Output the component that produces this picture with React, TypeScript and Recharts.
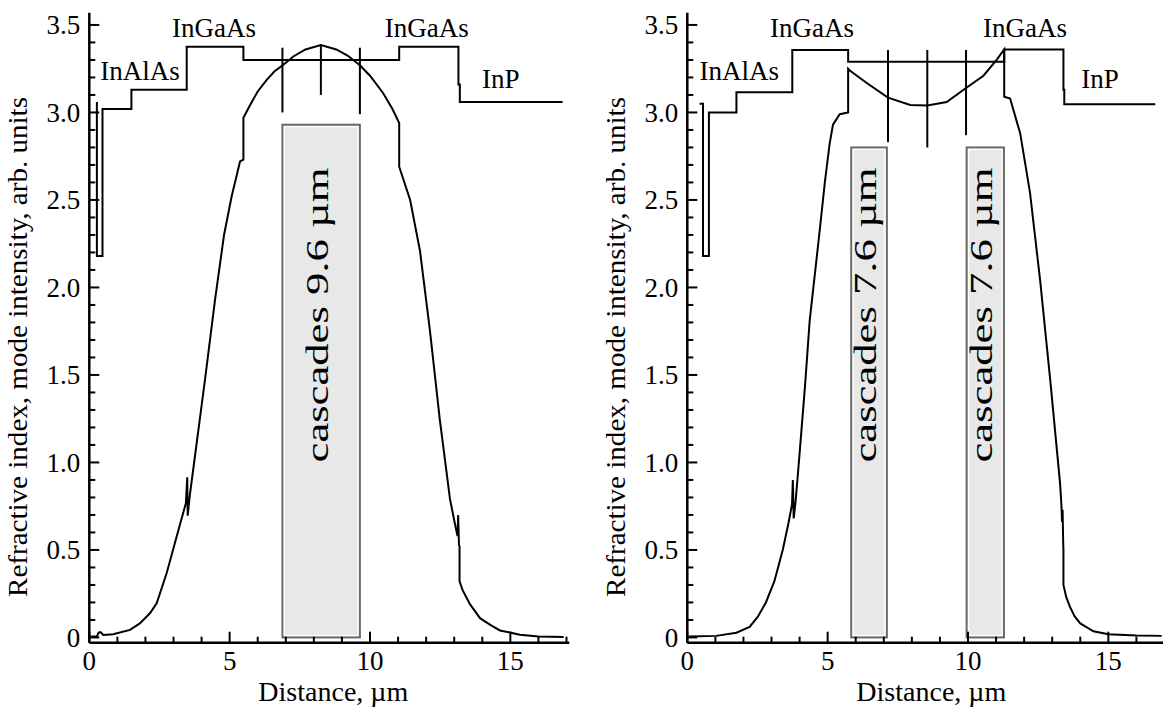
import React from 'react';
import { LineChart, Line, XAxis, YAxis, ReferenceArea, ReferenceLine, ReferenceDot, Label } from 'recharts';

type Pt = { x: number; y: number };

const FONT = '"Liberation Serif", "Times New Roman", serif';

const xTicks = [0, 1, 2, 3, 4, 5, 6, 7, 8, 9, 10, 11, 12, 13, 14, 15, 16, 17];
const yTicks = [
  0, 0.1, 0.2, 0.3, 0.4, 0.5, 0.6, 0.7, 0.8, 0.9, 1.0, 1.1, 1.2, 1.3, 1.4, 1.5, 1.6, 1.7,
  1.8, 1.9, 2.0, 2.1, 2.2, 2.3, 2.4, 2.5, 2.6, 2.7, 2.8, 2.9, 3.0, 3.1, 3.2, 3.3, 3.4, 3.5,
];

// left panel: one cascade block
const profileLeft: Pt[] = [
  { x: 0.27, y: 3.06 }, { x: 0.27, y: 2.18 }, { x: 0.47, y: 2.18 }, { x: 0.47, y: 3.02 },
  { x: 1.5, y: 3.02 }, { x: 1.5, y: 3.13 }, { x: 3.47, y: 3.13 }, { x: 3.47, y: 3.375 },
  { x: 5.49, y: 3.375 }, { x: 5.49, y: 3.3 }, { x: 11.04, y: 3.3 }, { x: 11.04, y: 3.375 },
  { x: 13.15, y: 3.375 }, { x: 13.15, y: 3.16 }, { x: 13.2, y: 3.16 }, { x: 13.2, y: 3.06 },
  { x: 16.86, y: 3.06 },
];

const modeLeft: Pt[] = [
  { x: 0.05, y: 0.005 }, { x: 0.27, y: 0.005 }, { x: 0.33, y: 0.028 }, { x: 0.4, y: 0.03 },
  { x: 0.5, y: 0.014 }, { x: 0.85, y: 0.018 }, { x: 1.45, y: 0.043 }, { x: 1.8, y: 0.08 },
  { x: 2.16, y: 0.138 }, { x: 2.4, y: 0.195 }, { x: 2.76, y: 0.37 }, { x: 3.11, y: 0.576 },
  { x: 3.44, y: 0.767 }, { x: 3.49, y: 0.915 }, { x: 3.505, y: 0.696 }, { x: 3.59, y: 0.824 },
  { x: 4.12, y: 1.47 }, { x: 4.48, y: 1.93 }, { x: 4.8, y: 2.3 }, { x: 5.07, y: 2.52 },
  { x: 5.37, y: 2.72 }, { x: 5.49, y: 2.73 }, { x: 5.49, y: 2.97 }, { x: 5.72, y: 3.04 },
  { x: 6.0, y: 3.12 }, { x: 6.32, y: 3.186 }, { x: 6.6, y: 3.235 }, { x: 6.89, y: 3.27 },
  { x: 7.27, y: 3.32 }, { x: 7.7, y: 3.36 }, { x: 8.25, y: 3.385 }, { x: 8.8, y: 3.36 },
  { x: 9.2, y: 3.325 }, { x: 9.64, y: 3.27 }, { x: 10.0, y: 3.21 }, { x: 10.47, y: 3.11 },
  { x: 10.8, y: 3.02 }, { x: 11.04, y: 2.94 }, { x: 11.04, y: 2.69 }, { x: 11.43, y: 2.5 },
  { x: 11.78, y: 2.21 }, { x: 12.13, y: 1.76 }, { x: 12.49, y: 1.24 }, { x: 12.85, y: 0.79 },
  { x: 13.05, y: 0.63 }, { x: 13.12, y: 0.58 }, { x: 13.14, y: 0.7 }, { x: 13.17, y: 0.53 },
  { x: 13.19, y: 0.52 }, { x: 13.19, y: 0.32 }, { x: 13.3, y: 0.27 }, { x: 13.56, y: 0.19 },
  { x: 13.92, y: 0.11 }, { x: 14.3, y: 0.07 }, { x: 14.63, y: 0.04 }, { x: 15.34, y: 0.016 },
  { x: 16.0, y: 0.006 }, { x: 16.9, y: 0.002 },
];

const markersLeft = [
  { x: 6.88, top: 3.37, bottom: 3.0 },
  { x: 8.25, top: 3.39, bottom: 3.1 },
  { x: 9.64, top: 3.37, bottom: 2.99 },
];

const cascadesLeft = [{ x1: 6.88, x2: 9.64, top: 2.93, text: 'cascades 9.6 µm' }];

const layersLeft = [
  { x: 1.81, y: 3.186, text: 'InAlAs' },
  { x: 4.44, y: 3.43, text: 'InGaAs' },
  { x: 12.02, y: 3.43, text: 'InGaAs' },
  { x: 14.66, y: 3.138, text: 'InP' },
];

// right panel: two cascade blocks
const profileRight: Pt[] = [
  { x: 0.44, y: 3.05 }, { x: 0.56, y: 3.05 }, { x: 0.56, y: 2.18 }, { x: 0.77, y: 2.18 },
  { x: 0.77, y: 3.0 }, { x: 1.75, y: 3.0 }, { x: 1.75, y: 3.115 }, { x: 3.74, y: 3.115 },
  { x: 3.74, y: 3.357 }, { x: 5.73, y: 3.357 }, { x: 5.73, y: 3.29 }, { x: 11.29, y: 3.29 },
  { x: 11.29, y: 3.36 }, { x: 13.4, y: 3.36 }, { x: 13.4, y: 3.13 }, { x: 13.43, y: 3.13 },
  { x: 13.43, y: 3.047 }, { x: 16.67, y: 3.047 },
];

const modeRight: Pt[] = [
  { x: 0.05, y: 0.005 }, { x: 1.03, y: 0.009 }, { x: 1.75, y: 0.027 }, { x: 2.22, y: 0.06 },
  { x: 2.52, y: 0.12 }, { x: 2.8, y: 0.2 }, { x: 3.1, y: 0.32 }, { x: 3.4, y: 0.5 },
  { x: 3.6, y: 0.65 }, { x: 3.73, y: 0.76 }, { x: 3.76, y: 0.9 }, { x: 3.79, y: 0.68 },
  { x: 3.86, y: 0.78 }, { x: 4.0, y: 1.05 }, { x: 4.2, y: 1.45 }, { x: 4.36, y: 1.81 },
  { x: 4.72, y: 2.33 }, { x: 4.9, y: 2.6 }, { x: 5.07, y: 2.82 }, { x: 5.19, y: 2.93 },
  { x: 5.43, y: 2.99 }, { x: 5.73, y: 3.0 }, { x: 5.73, y: 3.25 }, { x: 5.79, y: 3.24 },
  { x: 6.38, y: 3.17 }, { x: 7.15, y: 3.085 }, { x: 7.94, y: 3.043 }, { x: 8.55, y: 3.04 },
  { x: 9.24, y: 3.06 }, { x: 9.93, y: 3.14 }, { x: 10.55, y: 3.21 }, { x: 11.02, y: 3.3 },
  { x: 11.29, y: 3.36 }, { x: 11.29, y: 3.09 }, { x: 11.5, y: 3.08 }, { x: 11.86, y: 2.88 },
  { x: 12.21, y: 2.54 }, { x: 12.57, y: 2.04 }, { x: 12.93, y: 1.47 }, { x: 13.28, y: 0.88 },
  { x: 13.33, y: 0.75 }, { x: 13.35, y: 0.66 }, { x: 13.37, y: 0.73 }, { x: 13.39, y: 0.55 },
  { x: 13.4, y: 0.5 }, { x: 13.4, y: 0.3 }, { x: 13.5, y: 0.23 }, { x: 13.63, y: 0.176 },
  { x: 13.8, y: 0.12 }, { x: 14.0, y: 0.08 }, { x: 14.47, y: 0.035 }, { x: 15.0, y: 0.018 },
  { x: 16.0, y: 0.011 }, { x: 16.9, y: 0.009 },
];

const markersRight = [
  { x: 7.15, top: 3.357, bottom: 2.83 },
  { x: 8.55, top: 3.357, bottom: 2.8 },
  { x: 9.93, top: 3.357, bottom: 2.87 },
];

const cascadesRight = [
  { x1: 5.84, x2: 7.11, top: 2.8, text: 'cascades 7.6 µm' },
  { x1: 9.95, x2: 11.28, top: 2.8, text: 'cascades 7.6 µm' },
];

const layersRight = [
  { x: 1.85, y: 3.186, text: 'InAlAs' },
  { x: 4.44, y: 3.43, text: 'InGaAs' },
  { x: 12.03, y: 3.43, text: 'InGaAs' },
  { x: 14.7, y: 3.138, text: 'InP' },
];

const YTick = (props: any) => {
  const { x, y, payload } = props;
  const v: number = payload.value;
  const major = Math.round(v * 10) % 5 === 0;
  return (
    <g>
      <line x1={x} x2={x + (major ? 10 : 6)} y1={y} y2={y} stroke="#000" strokeWidth={2} />
      {major && (
        <text x={x - 9} y={y} dy="0.35em" textAnchor="end" fontSize={27} fontFamily={FONT} fill="#000">
          {v === 0 ? '0' : v.toFixed(1)}
        </text>
      )}
    </g>
  );
};

const XTick = (props: any) => {
  const { x, y, payload } = props;
  const v: number = payload.value;
  const major = v % 5 === 0;
  return (
    <g>
      <line x1={x} x2={x} y1={y} y2={y - (major ? 11 : 6)} stroke="#000" strokeWidth={2} />
      {major && (
        <text x={x} y={y + 27.5} textAnchor="middle" fontSize={27} fontFamily={FONT} fill="#000">
          {v}
        </text>
      )}
    </g>
  );
};

const CascadeBox = (props: any) => {
  const { x, y, width, height } = props;
  return (
    <g>
      <rect x={x} y={y} width={width} height={height} fill="#e8e8e8" stroke="#6a6a6a" strokeWidth={2} />
      <rect x={x + 2} y={y + 2} width={width - 4} height={height - 4} fill="none" stroke="#fff" strokeWidth={1.2} />
    </g>
  );
};

interface PanelProps {
  profile: Pt[];
  mode: Pt[];
  markers: { x: number; top: number; bottom: number }[];
  cascades: { x1: number; x2: number; top: number; text: string }[];
  layers: { x: number; y: number; text: string }[];
}

const Panel: React.FC<PanelProps> = ({ profile, mode, markers, cascades, layers }) => (
  <LineChart width={600} height={707} margin={{ top: 12.7, right: 30.7, bottom: 0, left: 0 }}>
    <XAxis
      type="number"
      dataKey="x"
      domain={[0, 17.1]}
      ticks={xTicks}
      interval={0}
      height={64.3}
      tickSize={0}
      tickMargin={0}
      tickLine={false}
      tick={<XTick />}
      axisLine={{ stroke: '#000', strokeWidth: 2.5 }}
      allowDataOverflow
    >
      <Label
        content={(p: any) => (
          <text
            x={p.viewBox.x + p.viewBox.width / 2 + 4}
            y={p.viewBox.y + 58.5}
            textAnchor="middle"
            fontSize={28}
            fontFamily={FONT}
            fill="#000"
          >
            Distance, µm
          </text>
        )}
      />
    </XAxis>
    <YAxis
      type="number"
      domain={[-0.03, 3.57]}
      ticks={yTicks}
      interval={0}
      width={89.3}
      tickSize={0}
      tickMargin={0}
      tickLine={false}
      tick={<YTick />}
      axisLine={{ stroke: '#000', strokeWidth: 2.5 }}
      allowDataOverflow
    >
      <Label
        content={() => (
          <text
            x={27}
            y={347}
            transform="rotate(-90 27 347)"
            textAnchor="middle"
            fontSize={27}
            fontFamily={FONT}
            textLength={500}
            lengthAdjust="spacingAndGlyphs"
            fill="#000"
          >
            Refractive index, mode intensity, arb. units
          </text>
        )}
      />
    </YAxis>
    {cascades.map((c, i) => (
      <ReferenceArea key={'a' + i} x1={c.x1} x2={c.x2} y1={0} y2={c.top} shape={<CascadeBox />} />
    ))}
    {cascades.map((c, i) => (
      <ReferenceDot
        key={'t' + i}
        x={(c.x1 + c.x2) / 2}
        y={1.0}
        r={0}
        shape={(p: any) => (
          <text
            x={p.cx + 7}
            y={p.cy}
            transform={`rotate(-90 ${p.cx + 7} ${p.cy})`}
            textAnchor="start"
            fontSize={31}
            fontFamily={FONT}
            textLength={295}
            lengthAdjust="spacingAndGlyphs"
            fill="#000"
          >
            {c.text}
          </text>
        )}
      />
    ))}
    {markers.map((m, i) => (
      <ReferenceLine
        key={'m' + i}
        segment={[{ x: m.x, y: m.top }, { x: m.x, y: m.bottom }]}
        stroke="#000"
        strokeWidth={2}
      />
    ))}
    <Line data={profile} dataKey="y" type="linear" stroke="#000" strokeWidth={2} dot={false} isAnimationActive={false} />
    <Line data={mode} dataKey="y" type="linear" stroke="#000" strokeWidth={2} dot={false} isAnimationActive={false} />
    {layers.map((l, i) => (
      <ReferenceDot
        key={'l' + i}
        x={l.x}
        y={l.y}
        r={0}
        shape={(p: any) => (
          <text x={p.cx} y={p.cy} textAnchor="middle" fontSize={27} fontFamily={FONT} fill="#000">
            {l.text}
          </text>
        )}
      />
    ))}
  </LineChart>
);

export default function App() {
  return (
    <div
      style={{
        position: 'absolute',
        left: 0,
        top: 0,
        width: 1163,
        height: 707,
        overflow: 'hidden',
        background: '#fff',
      }}
    >
      <div style={{ position: 'absolute', left: 0, top: 0 }}>
        <Panel profile={profileLeft} mode={modeLeft} markers={markersLeft} cascades={cascadesLeft} layers={layersLeft} />
      </div>
      <div style={{ position: 'absolute', left: 598.4, top: 0 }}>
        <Panel profile={profileRight} mode={modeRight} markers={markersRight} cascades={cascadesRight} layers={layersRight} />
      </div>
    </div>
  );
}
